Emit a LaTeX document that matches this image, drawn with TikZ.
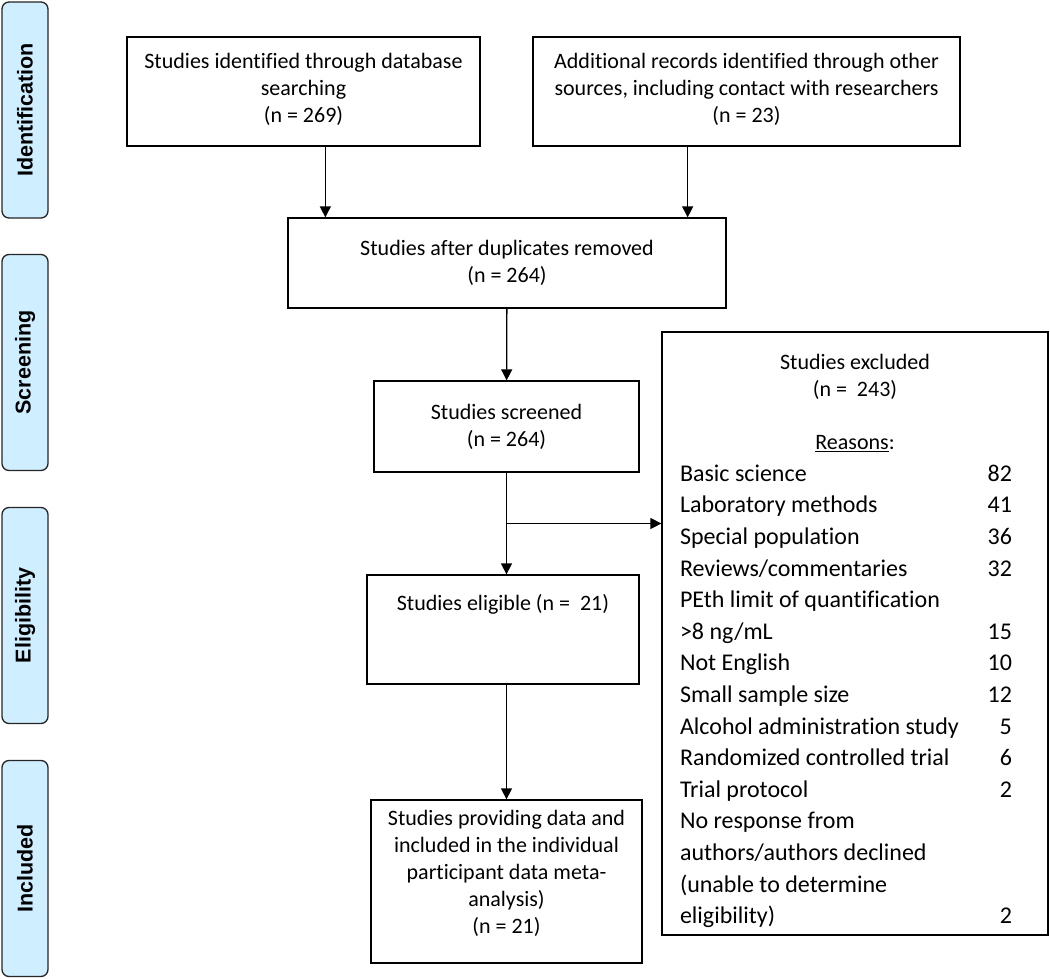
\documentclass[tikz,border=0pt]{standalone}
\usepackage{fontspec}
\setmainfont{Carlito}[Ligatures=NoCommon]
\newfontfamily\stagefont{Liberation Sans}
\usetikzlibrary{positioning,arrows.meta,calc}
\definecolor{stagefill}{HTML}{CFEEFF}
\tikzset{
  font=\fontsize{22}{27}\selectfont
}

\begin{document}
\begin{tikzpicture}[x=1pt,y=-1pt,
  box/.style={rectangle,draw,line width=1.3pt,align=center,inner sep=0pt},
  stage/.style={rectangle,rounded corners=7pt,draw=black!85,line width=1.3pt,fill=stagefill,
    minimum width=216pt,minimum height=46pt,rotate=90,inner sep=0pt,
    font=\stagefont\bfseries\fontsize{21.5}{25}\selectfont},
  arr/.style={-{Triangle[length=11pt,width=11pt]},line width=1.3pt}]
\useasboundingbox (0,0) rectangle (1050,979);
% phases on the left
\node[stage] (ident) at (25,110) {Identification};
\node[stage] (screen) at (25,362.5) {Screening};
\node[stage] (eligib) at (25,615.5) {Eligibility};
\node[stage] (incld) at (25,868.5) {Included};
% flow boxes
\node[box,minimum width=353pt,minimum height=109pt] (src1) at (303.5,91.5)
  {Studies identified through database\\searching\\(n = 269)\rule[-8pt]{0pt}{0pt}};
\node[box,minimum width=427pt,minimum height=109pt] (src2) at (746.5,91.5)
  {Additional records identified through other\\sources, including contact with researchers\\(n = 23)\rule[-8pt]{0pt}{0pt}};
\node[box,minimum width=438pt,minimum height=90pt] (dup) at (507,263)
  {Studies after duplicates removed\\(n = 264)};
\node[box,minimum width=265pt,minimum height=91pt] (scr) at (506.5,426.5)
  {Studies screened\\(n = 264)};
\node[box,minimum width=272pt,minimum height=109pt] (elig) at (503,629.5)
  {Studies eligible (n = \ 21)\\\mbox{}\\\mbox{}};
\node[box,minimum width=271pt,minimum height=163pt] (incl) at (506.5,881.5)
  {Studies providing data and\\included in the individual\\participant data meta-\\analysis)\\(n = 21)\rule[-19pt]{0pt}{0pt}};
\node[box,minimum width=386pt,minimum height=603pt] (excl) at (855,633.5) {};
\node[anchor=north,inner sep=0pt,font=\fontsize{24}{31.6}\selectfont] (excltext)
  at ([yshift=-16.1pt]excl.north) {%
  \begin{tabular*}{386pt}{@{\hspace{18pt}}l@{\extracolsep{\fill}}r@{\hspace{36pt}}}
  \multicolumn{2}{@{}c@{}}{\fontsize{22}{27}\selectfont Studies excluded}\\[-4.6pt]
  \multicolumn{2}{@{}c@{}}{\fontsize{22}{27}\selectfont (n = \ 243)}\\[21.4pt]
  \multicolumn{2}{@{}c@{}}{\fontsize{22}{27}\selectfont \underline{Reasons}:}\\
  Basic science & 82\\
  Laboratory methods & 41\\
  Special population & 36\\
  Reviews/commentaries & 32\\
  PEth limit of quantification & \\
  >8 ng/mL & 15\\
  Not English & 10\\
  Small sample size & 12\\
  Alcohol administration study & 5\\
  Randomized controlled trial & 6\\
  Trial protocol & 2\\
  No response from & \\
  authors/authors declined & \\
  (unable to determine & \\
  eligibility) & 2
  \end{tabular*}};
% connectors
\coordinate (in1) at ([xshift=38pt]dup.north west);
\coordinate (in2) at ([xshift=-39pt]dup.north east);
\draw[arr] (src1.south -| in1) -- (in1);
\draw[arr] (src2.south -| in2) -- (in2);
\draw[arr] (dup) -- (scr);
\coordinate (split) at ($(scr.south)!0.5!(scr.south |- elig.north)$);
\draw[line width=1.3pt] (scr.south) -- (split);
\draw[arr] (split) -- (split |- elig.north);
\draw[arr] (split) -- (split -| excl.west);
\draw[arr] (elig.south -| incl.north) -- (incl.north);
\end{tikzpicture}
\end{document}
